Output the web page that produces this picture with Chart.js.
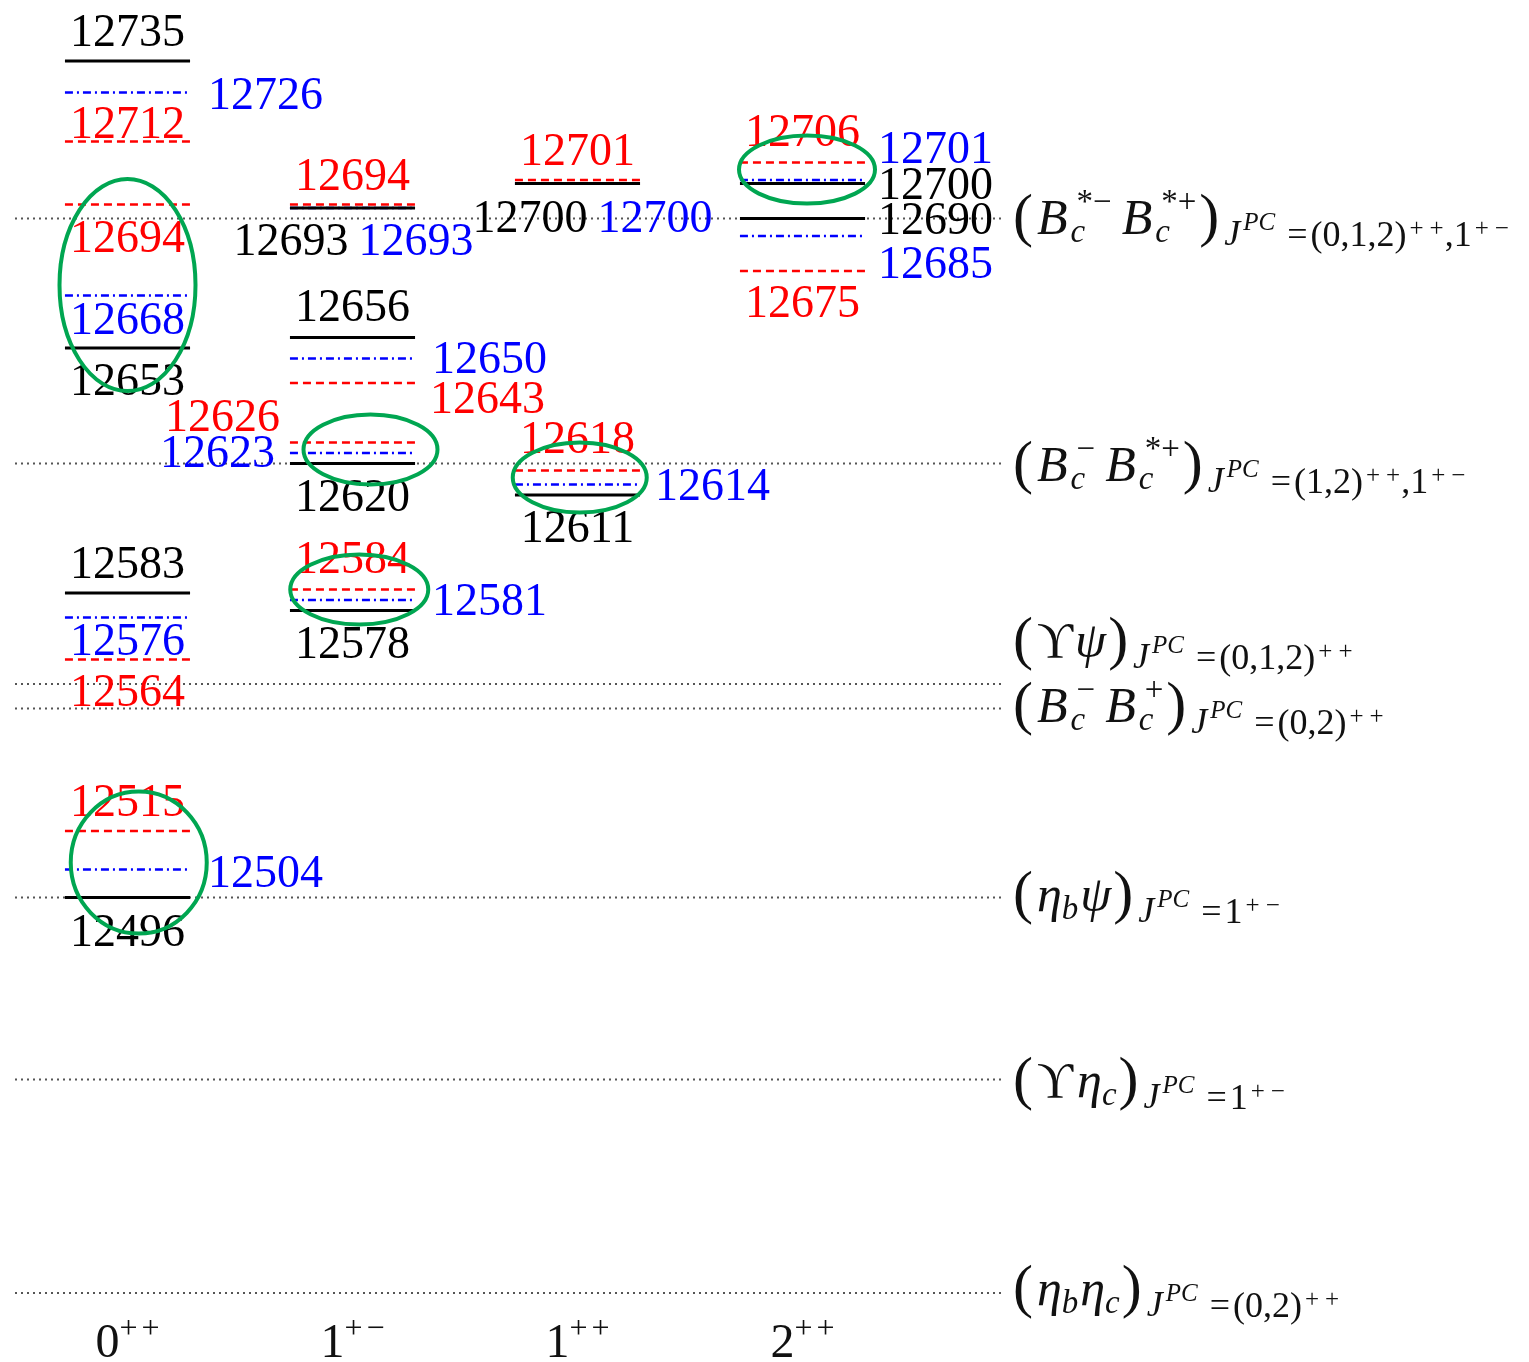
<!DOCTYPE html>
<html>
<head>
<meta charset="utf-8">
<script src="https://cdn.jsdelivr.net/npm/chart.js@4.4.1/dist/chart.umd.min.js"></script>
<style>
  html, body { margin: 0; padding: 0; background: #ffffff; }
  canvas { display: block; }
</style>
</head>
<body>
<canvas id="levels" width="1529" height="1362"></canvas>
<script>
// ---- data -------------------------------------------------------------
// J and PC of each column
const jValues = ['0', '1', '1', '2'];
const pcValues = ['++', '+\u2212', '++', '++'];

// masses in MeV, one array per column, one list per model
const massBlack = [[12735, 12653, 12583, 12496], [12693, 12656, 12620, 12578], [12700, 12611], [12700, 12690]];
const massBlue  = [[12726, 12668, 12576, 12504], [12693, 12650, 12623, 12581], [12700, 12614], [12701, 12685]];
const massRed   = [[12712, 12694, 12564, 12515], [12694, 12643, 12626, 12584], [12701, 12618], [12706, 12675]];

// two-meson thresholds in MeV (top to bottom)
const thresholdMass = [12690, 12620, 12557, 12550, 12496, 12444, 12383];

// circled groups of nearly degenerate states: column and mass of the centre
const circleColumn = [0, 0.05, 1.08, 1.03, 2.01, 3.02];
const circleMass   = [12671, 12506, 12624, 12584, 12616, 12704];

// ---- layout & style ---------------------------------------------------
const X_MIN = -0.5, X_MAX = 3.9;
const Y_MIN = 12375.3, Y_MAX = 12749.6;
const HALF = 0.278;                // half length of a level, in column units
const SERIF = '"Liberation Serif", "DejaVu Serif", serif';
const NUM_SIZE = 46;

// label placement: [anchor, dx, dy]  (c = centre, r = right of line, l = left of line,
// le / re = centred on the left / right end); dy is offset of the text middle
const placeBlack = [
  [['c', 0, -30], ['c', 0, 32], ['c', 0, -30], ['c', 0, 33]],
  [['le', 1, 32], ['c', 0, -32], ['c', 0, 32], ['c', 0, 32]],
  [['le', 15, 33], ['c', 0, 32]],
  [['r', 13, 0], ['r', 13, 0]]
];
const placeBlue = [
  [['r', 18, 1], ['c', 0, 23], ['c', 0, 22], ['r', 18, 2]],
  [['re', 1, 32], ['r', 17, -1], ['l', -15, -1], ['r', 17, 0]],
  [['re', 15, 33], ['r', 15, 0]],
  [['r', 13, -32], ['r', 13, 27]]
];
const placeRed = [
  [['c', 0, -19], ['c', 0, 32], ['c', 0, 31], ['c', 0, -30]],
  [['c', 0, -30], ['r', 15, 15], ['l', -10, -27], ['c', 0, -32]],
  [['c', 0, -30], ['c', 0, -33]],
  [['c', 0, -32], ['c', 0, 31]]
];

const models = [
  { mass: massRed,   place: placeRed,   color: '#ff0000', dash: [8, 5],          width: 2.5, order: 3 },
  { mass: massBlue,  place: placeBlue,  color: '#0000ff', dash: [8, 4, 2, 4],    width: 2.5, order: 2 },
  { mass: massBlack, place: placeBlack, color: '#000000', dash: [],              width: 3,   order: 1 }
];

const circleRadius = [[68, 106], [68, 71], [67, 35], [69, 35], [67, 35], [68, 34]];
const thresholdLabelDy = [15, 17, -27, 13, 13, 17, 12];

// ---- rich text for the threshold labels --------------------------------
const MAIN = 50, SCR = 36, SSCR = 25;
const P = (t, o) => Object.assign({ t: t, s: MAIN, i: false, dy: 0, pad: 0, ls: 0, dx: 0 }, o || {});
const open = () => P('(', { s: 60, dy: 1, pad: 4 });
const close = () => P(')', { s: 60, dy: 1, pad: 5 });
const sym = (t, pad) => P(t, { i: true, pad: pad || 0 });
const scripts = (sub, sup, pad) => ({
  sub: sub ? P(sub, { s: SCR - 3, i: true, dy: 8 }) : null,
  sup: sup ? P(sup, { s: SCR - 3, dy: -22, dx: 6 }) : null,
  pad: pad || 0
});
function jpc(groups) {
  const out = [
    P('J', { s: SCR, i: true, dy: 11, pad: 3 }),
    P('PC', { s: SSCR, i: true, dy: -4, pad: 12 }),
    P('=', { s: SCR, dy: 12, pad: 3 })
  ];
  groups.forEach(g => {
    out.push(P(g[0], { s: SCR, dy: 12, pad: 3 }));
    out.push(P(g[1], { s: SSCR, dy: 2, ls: 6, pad: 1 }));
  });
  return out;
}
const UPS = '\u03D2', ETA = '\u03B7', PSI = '\u03C8', MINUS = '\u2212';
const thresholdLabels = [
  [open(), sym('B', 3), scripts('c', '*' + MINUS, 10), sym('B', 3), scripts('c', '*+', 3), close(),
    ...jpc([['(0,1,2)', '++'], [',1', '+' + MINUS]])],
  [open(), sym('B', 3), scripts('c', MINUS, 10), sym('B', 3), scripts('c', '*+', 3), close(),
    ...jpc([['(1,2)', '++'], [',1', '+' + MINUS]])],
  [open(), P(UPS, { pad: 2 }), sym(PSI, 2), close(), ...jpc([['(0,1,2)', '++']])],
  [open(), sym('B', 3), scripts('c', MINUS, 10), sym('B', 3), scripts('c', '+', 3), close(),
    ...jpc([['(0,2)', '++']])],
  [open(), sym(ETA, 0), scripts('b', null, 2), sym(PSI, 2), close(), ...jpc([['1', '+' + MINUS]])],
  [open(), P(UPS, { pad: 4 }), sym(ETA, 0), scripts('c', null, 2), close(), ...jpc([['1', '+' + MINUS]])],
  [open(), sym(ETA, 0), scripts('b', null, 2), sym(ETA, 0), scripts('c', null, 2), close(),
    ...jpc([['(0,2)', '++']])]
];

function fontOf(p) { return (p.i ? 'italic ' : '') + p.s + 'px ' + SERIF; }
function textWidth(ctx, p) {
  ctx.font = fontOf(p);
  let w = 0;
  for (const ch of p.t) w += ctx.measureText(ch).width + p.ls;
  return w - (p.t.length ? p.ls : 0);
}
function drawPiece(ctx, p, x, y) {
  ctx.font = fontOf(p);
  ctx.textAlign = 'left';
  ctx.textBaseline = 'alphabetic';
  if (!p.ls) { ctx.fillText(p.t, x, y); return; }
  for (const ch of p.t) { ctx.fillText(ch, x, y); x += ctx.measureText(ch).width + p.ls; }
}
function partsWidth(ctx, parts) {
  let w = 0;
  for (const p of parts) {
    if (p.sub !== undefined) {
      let sw = 0;
      if (p.sub) sw = Math.max(sw, textWidth(ctx, p.sub) + p.sub.dx);
      if (p.sup) sw = Math.max(sw, textWidth(ctx, p.sup) + p.sup.dx);
      w += sw + p.pad;
    } else {
      w += textWidth(ctx, p) + p.pad;
    }
  }
  return w;
}
function drawParts(ctx, parts, x, y) {
  for (const p of parts) {
    if (p.sub !== undefined) {
      let sw = 0;
      for (const q of [p.sub, p.sup]) {
        if (!q) continue;
        drawPiece(ctx, q, x + q.dx, y + q.dy);
        sw = Math.max(sw, textWidth(ctx, q) + q.dx);
      }
      x += sw + p.pad;
    } else {
      drawPiece(ctx, p, x, y + p.dy);
      x += textWidth(ctx, p) + p.pad;
    }
  }
}

// ---- datasets ---------------------------------------------------------
const datasets = [];
thresholdMass.forEach(m => {
  datasets.push({
    data: [{ x: X_MIN, y: m }, { x: X_MAX, y: m }],
    borderColor: '#555555', borderWidth: 2, borderDash: [2, 4],
    pointRadius: 0, order: 10
  });
});
models.forEach(model => {
  model.mass.forEach((col, c) => {
    col.forEach(m => {
      datasets.push({
        data: [{ x: c - HALF, y: m }, { x: c + HALF, y: m }],
        borderColor: model.color, borderWidth: model.width, borderDash: model.dash,
        pointRadius: 0, order: model.order
      });
    });
  });
});

// ---- annotation plugin: level values, threshold names, columns, circles ----
const annotate = {
  id: 'annotate',
  afterDraw(chart) {
    const ctx = chart.ctx;
    const xs = chart.scales.x, ys = chart.scales.y, area = chart.chartArea;
    ctx.save();

    // level values
    ctx.textBaseline = 'alphabetic';
    ctx.font = NUM_SIZE + 'px ' + SERIF;
    models.forEach(model => {
      ctx.fillStyle = model.color;
      model.mass.forEach((col, c) => {
        const x0 = xs.getPixelForValue(c - HALF), x1 = xs.getPixelForValue(c + HALF);
        col.forEach((m, k) => {
          const [anchor, dx, dy] = model.place[c][k];
          const y = ys.getPixelForValue(m) + dy + 15;
          let x, align;
          if (anchor === 'c') { x = (x0 + x1) / 2 + dx; align = 'center'; }
          else if (anchor === 'r') { x = x1 + dx; align = 'left'; }
          else if (anchor === 'l') { x = x0 + dx; align = 'right'; }
          else if (anchor === 'le') { x = x0 + dx; align = 'center'; }
          else { x = x1 + dx; align = 'center'; }
          ctx.textAlign = align;
          ctx.font = NUM_SIZE + 'px ' + SERIF;
          ctx.fillText(String(m), x, y);
        });
      });
    });

    // threshold names
    ctx.fillStyle = '#111111';
    thresholdMass.forEach((m, k) => {
      drawParts(ctx, thresholdLabels[k], area.right + 8, ys.getPixelForValue(m) + thresholdLabelDy[k]);
    });

    // column labels J^PC
    ctx.fillStyle = '#111111';
    jValues.forEach((j, c) => {
      const parts = [P(j, { s: 48 }), P(pcValues[c], { s: 32, dy: -19, ls: 4 })];
      const w = partsWidth(ctx, parts);
      drawParts(ctx, parts, xs.getPixelForValue(c) - w / 2, area.bottom + 37);
    });

    // circles
    ctx.strokeStyle = '#00a651';
    ctx.lineWidth = 4;
    circleColumn.forEach((c, k) => {
      ctx.beginPath();
      ctx.ellipse(xs.getPixelForValue(c), ys.getPixelForValue(circleMass[k]),
        circleRadius[k][0], circleRadius[k][1], 0, 0, Math.PI * 2);
      ctx.stroke();
    });
    ctx.restore();
  }
};

new Chart(document.getElementById('levels'), {
  type: 'line',
  data: { datasets: datasets },
  options: {
    responsive: false,
    animation: false,
    devicePixelRatio: 1,
    layout: { padding: { left: 15, right: 524, top: 10, bottom: 42 } },
    scales: {
      x: { type: 'linear', min: X_MIN, max: X_MAX, display: false },
      y: { type: 'linear', min: Y_MIN, max: Y_MAX, display: false }
    },
    plugins: { legend: { display: false }, tooltip: { enabled: false } },
    elements: { point: { radius: 0 }, line: { tension: 0 } }
  },
  plugins: [annotate]
});
</script>
</body>
</html>
